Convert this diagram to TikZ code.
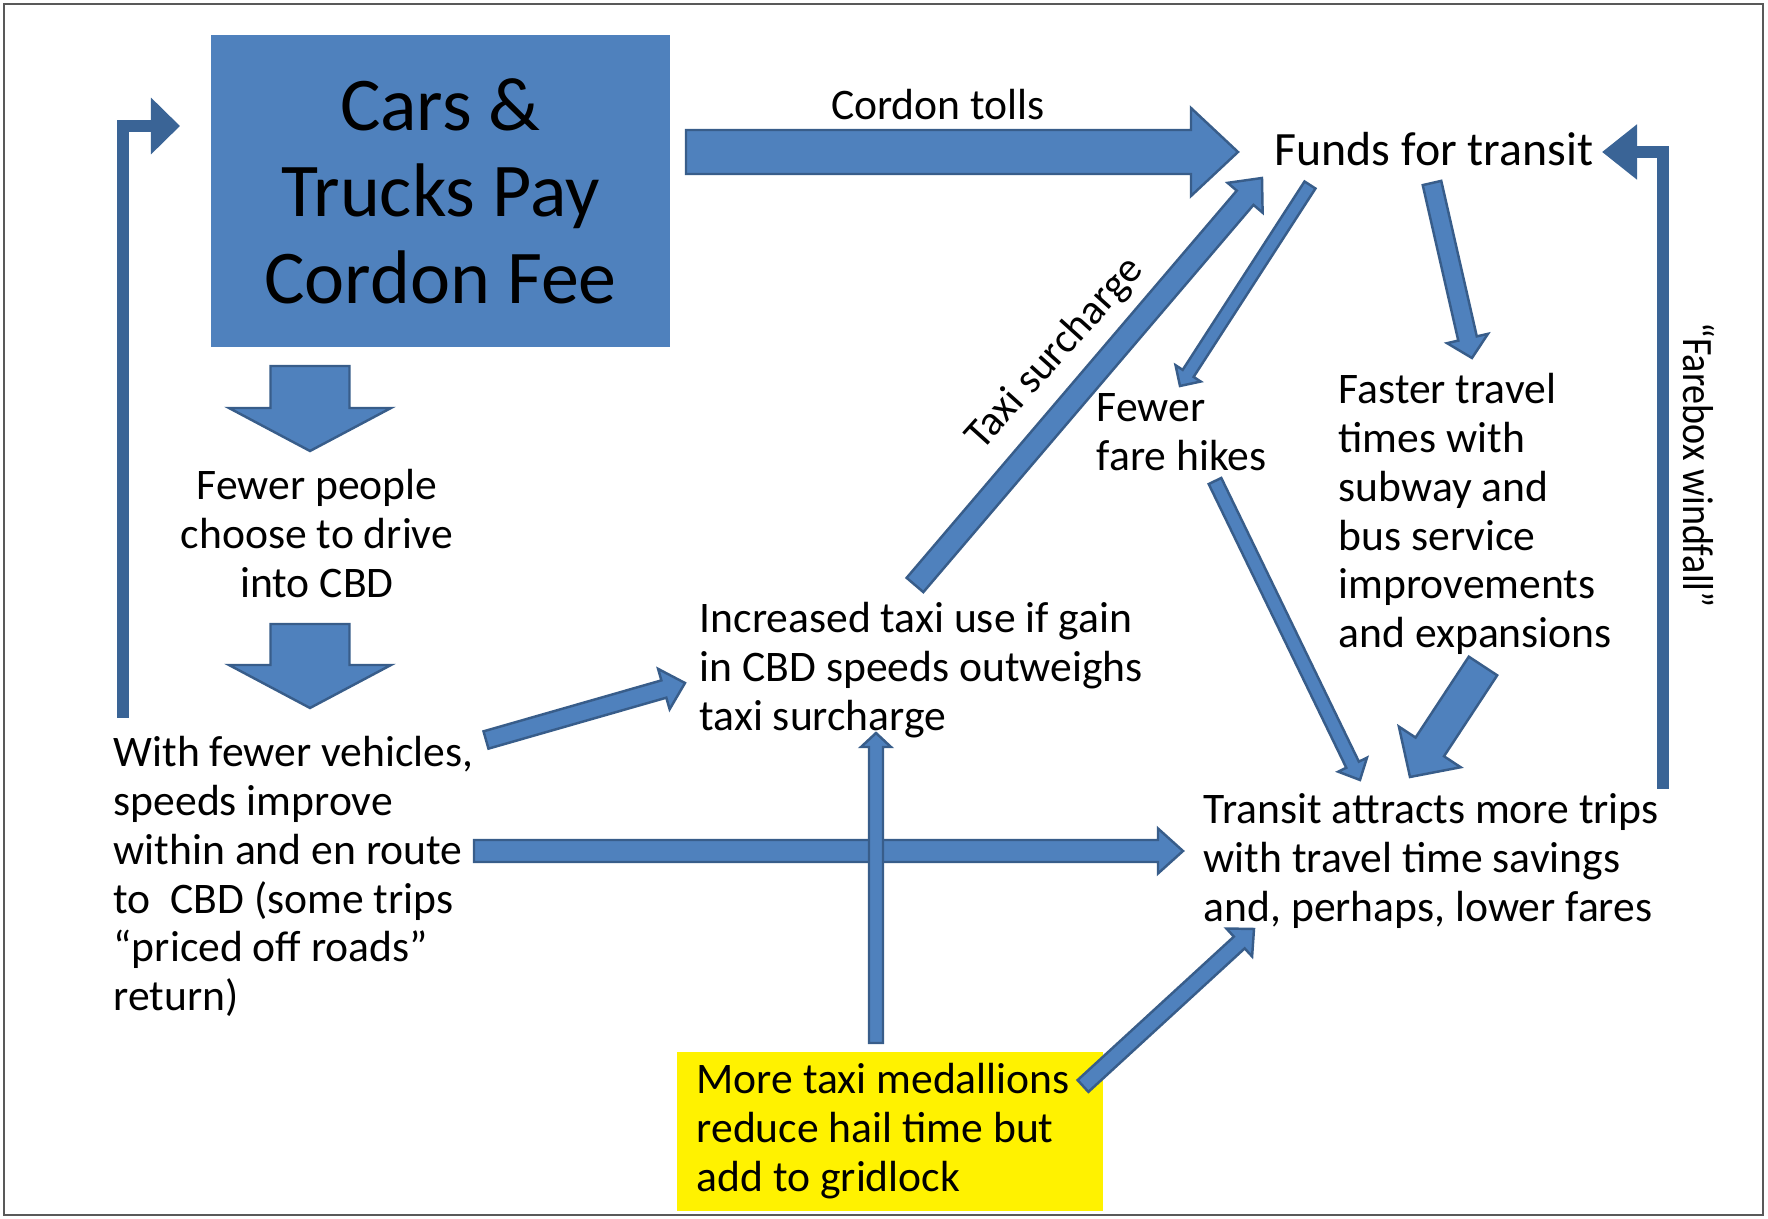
\documentclass[tikz,border=0pt]{standalone}
\usepackage{fontspec}
\setmainfont{Carlito}
\newfontfamily\narrowfont[FakeStretch=0.88]{Carlito}
\usepackage{tikz}
\usetikzlibrary{positioning}
\usetikzlibrary{arrows.meta}
\usetikzlibrary{calc, shapes}
\definecolor{boxblue}{HTML}{4F81BD}
\definecolor{edgeblue}{HTML}{385D8A}
\definecolor{loopblue}{HTML}{3A6496}
\tikzstyle{txt} = [inner sep=0pt, anchor=base west, align=left, font=\fontsize{12.4}{13.85}\selectfont,
                   execute at begin node={\spaceskip=\fontdimen2\font\relax\xspaceskip=\fontdimen2\font\relax\hyphenpenalty=10000}]
\tikzstyle{blockarrow} = [fill=boxblue, draw=edgeblue, line width=0.7pt, line join=miter]
\tikzstyle{feedback} = [draw=loopblue, line width=0.12cm, line join=miter]

% block arrow: tail, tip, half shaft, half head, head length (px)
\newcommand{\blockarrow}[6][]{%
  \coordinate (headbase) at ($(#3)!#6*0.01cm!(#2)$);
  \filldraw[blockarrow,#1] ($(#2)!#4*0.01cm!90:(#3)$) -- ($(headbase)!#4*0.01cm!90:(#3)$)
    -- ($(headbase)!#5*0.01cm!90:(#3)$) -- (#3)
    -- ($(headbase)!#5*0.01cm!-90:(#3)$) -- ($(headbase)!#4*0.01cm!-90:(#3)$)
    -- ($(#2)!#4*0.01cm!-90:(#3)$) -- cycle;
}

\begin{document}
\begin{tikzpicture}[x=0.01cm, y=-0.01cm]
  \useasboundingbox (0,0) rectangle (1768,1219);
  \draw[gray!70!black, line width=0.02cm] (4,4) rectangle (1763,1215);

  % Nodes
  \node[txt, anchor=center, fill=boxblue, minimum width=4.59cm, minimum height=3.11cm,
        text width=4.59cm, align=center, font=\fontsize{21.6}{24.6}\selectfont]
        (cordonfee) at (440.5,191) {Cars \&\\Trucks Pay\\Cordon Fee};
  \node[txt, anchor=base] (tolls) at (938,120) {Cordon tolls};
  \node[txt, font=\fontsize{13.6}{15}\selectfont] (funds) at (1274,166) {Funds for transit};
  \node[txt, anchor=base, text width=4cm, align=center] (fewer) at (317,500)
        {Fewer people\\choose to drive\\into CBD};
  \node[txt, text width=4.5cm] (withfewer) at (113,767)
        {With fewer vehicles,\\speeds improve\\within and en route\\to\ \ CBD (some trips\\“priced off roads”\\return)};
  \node[txt, text width=5.2cm] (taxiuse) at (699,633)
        {Increased taxi use if gain\\in CBD speeds outweighs\\taxi surcharge};
  \node[txt, text width=2.5cm] (hikes) at (1096,422) {Fewer\\fare hikes};
  \node[txt, text width=3.5cm] (faster) at (1338,404)
        {Faster travel\\times with\\subway and\\bus service\\improvements\\and expansions};
  \node[txt, text width=5.2cm] (transit) at (1203,824)
        {Transit attracts more trips\\with travel time savings\\and, perhaps, lower fares};
  \node[txt, anchor=north west, fill=yellow, inner xsep=0.2cm, inner ysep=0.12cm, text width=3.86cm]
        (medallions) at (676,1051) {More taxi medallions\\reduce hail time but\\add to gridlock};
  \node[rotate=48, inner sep=0pt, font=\fontsize{12}{14}\selectfont] (surcharge) at (1055,354) {Taxi surcharge};
  \node[rotate=-90, inner sep=0pt, font=\narrowfont\fontsize{12.3}{14}\selectfont] (windfall) at (1699,465) {“Farebox windfall”};

  % Arrow ends
  \coordinate (tollsS) at (686,152);    \coordinate (tollsE) at (1238,152);
  \coordinate (downAs) at (310,366);    \coordinate (downAe) at (310,451);
  \coordinate (downBs) at (310,624);    \coordinate (downBe) at (310,708);
  \coordinate (surS) at (915,585);      \coordinate (surE) at (1262,178);
  \coordinate (hikesS) at (1310,185);   \coordinate (hikesE) at (1180,386);
  \coordinate (fastS) at (1432,183);    \coordinate (fastE) at (1472,358);
  \coordinate (hikes2S) at (1215,481);  \coordinate (hikes2E) at (1360,780);
  \coordinate (fast2S) at (1483,666);   \coordinate (fast2E) at (1410,777);
  \coordinate (taxiS) at (486,740);     \coordinate (taxiE) at (685,683);
  \coordinate (speedS) at (474,851);    \coordinate (speedE) at (1183,851);
  \coordinate (medS) at (876,1043);     \coordinate (medE) at (876,733);
  \coordinate (med2S) at (1083,1086);   \coordinate (med2E) at (1254,929);
  \coordinate (loopLs) at (123,718);    \coordinate (loopLe) at (180,126);
  \coordinate (loopRs) at (1663,789);   \coordinate (loopRe) at (1602,152);

  % Block arrows
  \blockarrow{tollsS}{tollsE}{22}{44}{47}
  \blockarrow{downAs}{downAe}{39.5}{81}{43}
  \blockarrow{downBs}{downBe}{39.5}{81}{43}
  \blockarrow{surS}{surE}{11}{23}{26}
  \blockarrow{hikesS}{hikesE}{6.5}{15}{15}
  \blockarrow{fastS}{fastE}{9.5}{21}{20}
  \blockarrow{hikes2S}{hikes2E}{7}{16}{17}
  \blockarrow{fast2S}{fast2E}{17}{37}{36}
  \blockarrow{taxiS}{taxiE}{9}{21}{22}
  \blockarrow{speedS}{speedE}{11}{22.5}{25}
  \blockarrow{medS}{medE}{7}{15}{14}
  \blockarrow{med2S}{med2E}{8}{19}{20}

  % Feedback loops
  \draw[feedback, -{Triangle[length=0.29cm,width=0.55cm]}] (loopLs) |- (loopLe);
  \draw[feedback, -{Triangle[length=0.35cm,width=0.53cm]}] (loopRs) |- (loopRe);
\end{tikzpicture}
\end{document}
